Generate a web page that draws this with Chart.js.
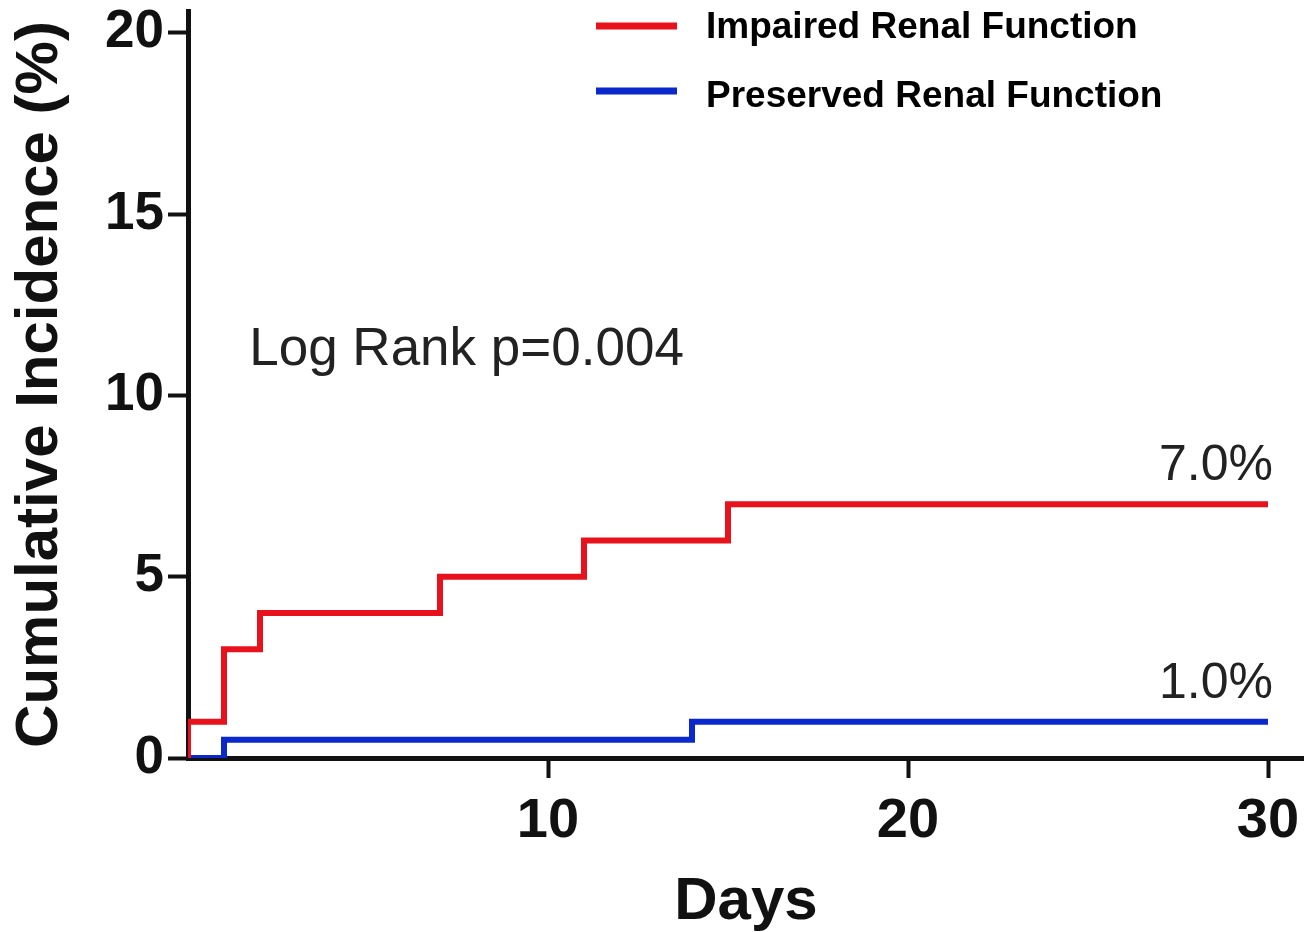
<!DOCTYPE html>
<html>
<head>
<meta charset="utf-8">
<title>Cumulative Incidence</title>
<script src="https://cdn.jsdelivr.net/npm/chart.js@4/dist/chart.umd.min.js"></script>
<style>
  html, body { margin: 0; padding: 0; background: #fff; }
  #wrap { width: 1304px; height: 932px; }
</style>
</head>
<body>
<div id="wrap"><canvas id="kmChart" width="1304" height="932"></canvas></div>
<script>
// Kaplan-Meier style cumulative incidence (step changes)
const impairedDays = [0, 0, 1, 2, 7, 11, 15, 30];
const impairedPct  = [0, 1, 3, 4, 5, 6, 7, 7];
const preservedDays = [0, 1, 14, 30];
const preservedPct  = [0, 0.5, 1, 1];

const xTicks = [10, 20, 30];
const yTicks = [0, 5, 10, 15, 20];

const seriesNames = ['Impaired Renal Function', 'Preserved Renal Function'];
const endLabels = ['7.0%', '1.0%'];
const logRankText = 'Log Rank p=0.004';

const FONT = "'Liberation Sans', Arial, Helvetica, sans-serif";
const RED = '#e8121c';
const BLUE = '#0b28cc';

function toPoints(days, vals) {
    return days.map((d, i) => ({ x: d, y: vals[i] }));
}

// legend + text annotations drawn on top
const annotations = {
    id: 'annotations',
    afterDraw(chart) {
        const ctx = chart.ctx;
        const xs = chart.scales.x;
        const ys = chart.scales.y;
        ctx.save();

        // legend
        const lineY = [26, 91];
        const textY = [28, 97];
        chart.data.datasets.forEach((ds, i) => {
            ctx.strokeStyle = ds.borderColor;
            ctx.lineWidth = 7;
            ctx.beginPath();
            ctx.moveTo(596, lineY[i]);
            ctx.lineTo(677, lineY[i]);
            ctx.stroke();
            ctx.fillStyle = '#000';
            ctx.font = 'bold 37px ' + FONT;
            ctx.textBaseline = 'middle';
            ctx.textAlign = 'left';
            ctx.fillText(ds.label, 706, textY[i]);
        });

        // end-of-curve percentages
        ctx.font = '50px ' + FONT;
        ctx.fillStyle = '#222';
        ctx.textAlign = 'right';
        ctx.textBaseline = 'alphabetic';
        const last = [impairedPct[impairedPct.length - 1], preservedPct[preservedPct.length - 1]];
        endLabels.forEach((t, i) => {
            ctx.fillText(t, xs.getPixelForValue(30) + 5, ys.getPixelForValue(last[i]) - 24);
        });

        // log rank text
        ctx.textAlign = 'left';
        ctx.font = '53px ' + FONT;
        ctx.fillText(logRankText, xs.getPixelForValue(1.7), ys.getPixelForValue(10.85));

        ctx.restore();
    }
};

document.addEventListener('DOMContentLoaded', function() {
    const ctx = document.getElementById('kmChart').getContext('2d');
    new Chart(ctx, {
        type: 'line',
        data: {
            datasets: [{
                label: seriesNames[0],
                data: toPoints(impairedDays, impairedPct),
                borderColor: RED,
                borderWidth: 6,
                stepped: 'before',
                pointRadius: 0,
                fill: false
            }, {
                label: seriesNames[1],
                data: toPoints(preservedDays, preservedPct),
                borderColor: BLUE,
                borderWidth: 6,
                stepped: 'before',
                pointRadius: 0,
                fill: false
            }]
        },
        options: {
            responsive: false,
            animation: false,
            layout: { padding: { top: 11, right: 0, left: 0, bottom: 0 } },
            plugins: {
                legend: { display: false },
                tooltip: { enabled: false }
            },
            scales: {
                x: {
                    type: 'linear',
                    min: 0,
                    max: 31,
                    afterFit: s => { s.height = 174; s.paddingLeft = 0; s.paddingRight = 0; },
                    afterBuildTicks: s => { s.ticks = xTicks.map(v => ({ value: v })); },
                    border: { display: true, color: '#111', width: 5 },
                    grid: { drawOnChartArea: false, drawTicks: true, tickLength: 20, tickWidth: 4, tickColor: '#111' },
                    ticks: {
                        color: '#111',
                        padding: 10,
                        maxRotation: 0,
                        font: { family: FONT, size: 56, weight: 'bold' }
                    },
                    title: {
                        display: true,
                        text: 'Days',
                        color: '#111',
                        padding: { top: 0, bottom: 0 },
                        font: { family: FONT, size: 60, weight: 'bold', lineHeight: 1.0 }
                    }
                },
                y: {
                    min: 0,
                    max: 20.6,
                    afterFit: s => { s.width = 188; s.paddingTop = 0; s.paddingBottom = 0; },
                    afterBuildTicks: s => { s.ticks = yTicks.map(v => ({ value: v })); },
                    border: { display: true, color: '#111', width: 5 },
                    grid: { drawOnChartArea: false, drawTicks: true, tickLength: 20, tickWidth: 4, tickColor: '#111' },
                    ticks: {
                        color: '#111',
                        padding: 4,
                        font: { family: FONT, size: 53, weight: 'bold' }
                    },
                    title: {
                        display: true,
                        text: 'Cumulative Incidence (%)',
                        color: '#111',
                        padding: { top: 4, bottom: 0 },
                        font: { family: FONT, size: 60, weight: 'bold' }
                    }
                }
            }
        },
        plugins: [annotations]
    });
});
</script>
</body>
</html>
